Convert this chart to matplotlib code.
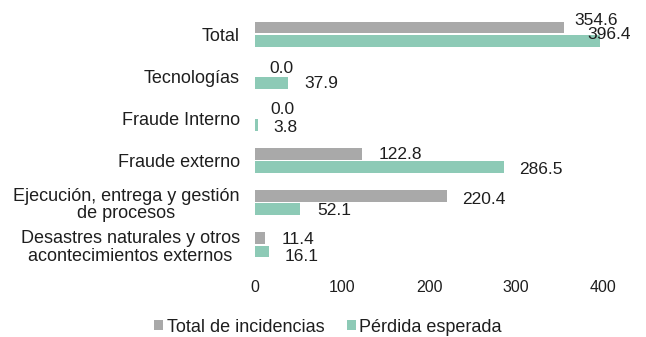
import matplotlib
matplotlib.use("Agg")
import matplotlib.pyplot as plt
import numpy as np

plt.rcParams['font.family'] = ['Liberation Sans', 'DejaVu Sans']

# Data
categories = [
    "Total",
    "Tecnologías",
    "Fraude Interno",
    "Fraude externo",
    "Ejecución, entrega y gestión\nde procesos",
    "Desastres naturales y otros\nacontecimientos externos",
]
total_incidencias = [354.6, 0.0, 0.0, 122.8, 220.4, 11.4]
perdida_esperada = [396.4, 37.9, 3.8, 286.5, 52.1, 16.1]
series_names = ["Total de incidencias", "Pérdida esperada"]
x_ticks = [0, 100, 200, 300, 400]

# Styling
gray = "#a9a9a9"
green = "#8dcab6"
text_color = "#1e1e1e"
# label offsets in pixels (dx right, dy down) for each bar label
gray_label_off = [(11, -7), (14, -1), (15, -2.5), (17, 0), (15, 3), (17, 1.5)]
green_label_off = [(-13, -6), (16, 1), (15, 2.5), (15, 2.5), (17, 1.5), (16, 5.5)]

fig = plt.figure(figsize=(6.46, 3.37), dpi=100)
ax = fig.add_axes([255 / 646, 1 - 266 / 337, 370 / 646, 253 / 337])

y = np.arange(len(categories))
h = 0.28
off = 0.155
ax.barh(y - off, total_incidencias, height=h, color=gray, label=series_names[0])
ax.barh(y + off, perdida_esperada, height=h, color=green, label=series_names[1])

for i in range(len(categories)):
    dx, dy = gray_label_off[i]
    ax.annotate(f"{total_incidencias[i]:.1f}", (total_incidencias[i], y[i] - off),
                xytext=(dx, -dy), textcoords="offset pixels",
                ha="left", va="center", fontsize=12.5, color=text_color)
    dx, dy = green_label_off[i]
    ax.annotate(f"{perdida_esperada[i]:.1f}", (perdida_esperada[i], y[i] + off),
                xytext=(dx, -dy), textcoords="offset pixels",
                ha="left", va="center", fontsize=12.5, color=text_color)

ax.set_xlim(0, 425)
ax.set_ylim(len(categories) - 0.5, -0.5)
ax.set_xticks(x_ticks)
ax.set_xticklabels([str(t) for t in x_ticks], fontsize=11.5, color=text_color)
ax.set_yticks(y)
ax.set_yticklabels(categories, fontsize=13, color=text_color, linespacing=1.05,
                   multialignment="center")
ax.tick_params(axis="both", length=0)
ax.tick_params(axis="x", pad=10)
ax.tick_params(axis="y", pad=11)
for s in ax.spines.values():
    s.set_visible(False)

fig.legend(loc="center", bbox_to_anchor=(328 / 646, 1 - 327 / 337), ncol=2,
           frameon=False, fontsize=13, handlelength=0.5, handleheight=0.5,
           handletextpad=0.2, columnspacing=1.25, borderpad=0,
           labelcolor=text_color)

fig.savefig("out.png", dpi=100, facecolor="white")
